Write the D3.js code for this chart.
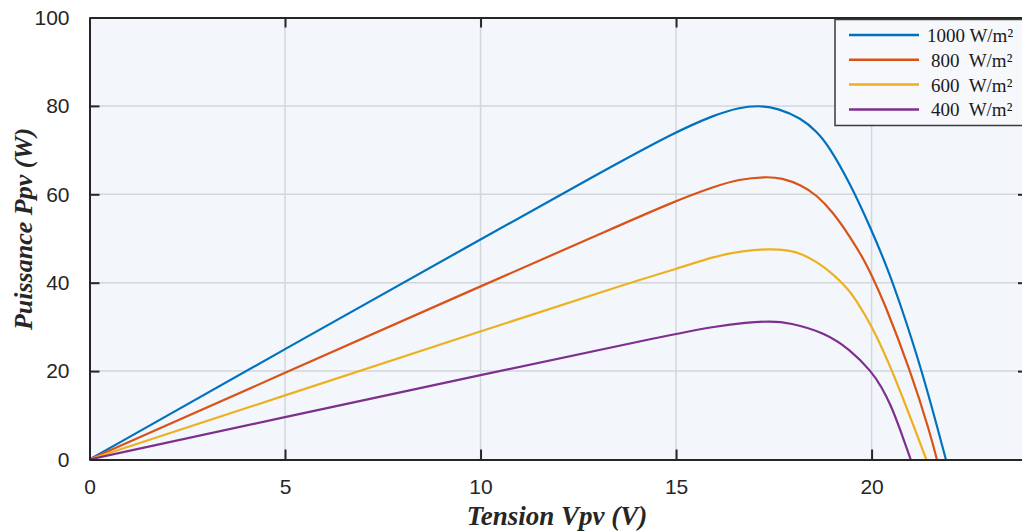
<!DOCTYPE html>
<html>
<head>
<meta charset="utf-8">
<script src="https://cdn.jsdelivr.net/npm/d3@7"></script>
<style>
  body { margin: 0; background: #fff; }
  svg { display: block; }
</style>
</head>
<body>
<div id="chart"></div>
<script>
// values
const seriesNames = ['1000 W/m²', '800  W/m²', '600  W/m²', '400  W/m²'];
const seriesColors = ['#0072BD', '#D95319', '#EDB120', '#7E2F8E'];

const v1000 = [0, 5, 10, 13, 15, 16, 16.6, 17.1, 17.6, 18.2, 18.6, 18.9, 19.45, 20.0, 20.4, 20.7, 21.3, 21.9];
const p1000 = [0, 25, 49.8, 64.6, 74.2, 78.0, 79.6, 80.1, 79.5, 77.2, 74.2, 71.0, 62.5, 51.9, 43.4, 36.1, 19.9, 0];

const v800 = [0, 5, 10, 13, 15, 16, 16.6, 17.3, 17.7, 18.2, 18.6, 19.0, 19.45, 19.8, 20.0, 20.3, 21.0, 21.5, 21.67];
const p800 = [0, 19.6, 39.2, 50.8, 58.6, 61.8, 63.4, 64.0, 63.7, 62.1, 59.8, 56.1, 50.4, 45.3, 41.7, 36.1, 19.9, 5.9, 0];

const v600 = [0, 5, 10, 14, 15, 16, 16.7, 17.4, 17.9, 18.2, 18.6, 19.0, 19.4, 19.6, 20.0, 20.55, 21.4];
const p600 = [0, 14.5, 29.0, 40.5, 43.1, 46.0, 47.2, 47.7, 47.3, 46.6, 44.7, 42.1, 38.6, 36.1, 30.4, 19.9, 0];

const v400 = [0, 5, 10, 15, 16, 16.8, 17.4, 17.9, 18.8, 19.45, 20.0, 20.25, 20.5, 20.75, 21.0];
const p400 = [0, 9.6, 19.1, 28.5, 30.1, 31.0, 31.3, 31.0, 28.7, 24.9, 19.9, 16.5, 12.2, 6.3, 0];

const xTicks = [0, 5, 10, 15, 20];
const yTicks = [0, 20, 40, 60, 80, 100];

const voltages = [v1000, v800, v600, v400];
const powers = [p1000, p800, p600, p400];

const W = 1022, H = 532;
const margin = { top: 17.5, left: 89.5 };
const width = 938.5;   // x = 24 V lies just outside the picture
const height = 442;

const svg = d3.select('#chart')
  .append('svg')
  .attr('width', W)
  .attr('height', H);

const g = svg.append('g')
  .attr('transform', `translate(${margin.left}, ${margin.top})`);

const x = d3.scaleLinear().domain([0, 24]).range([0, width]);
const y = d3.scaleLinear().domain([0, 100]).range([height, 0]);

// plot background
g.append('rect')
  .attr('width', width)
  .attr('height', height)
  .attr('fill', '#F3F7FC');

// grid
g.append('g')
  .selectAll('line')
  .data(xTicks.slice(1))
  .enter()
  .append('line')
  .attr('x1', d => x(d)).attr('x2', d => x(d))
  .attr('y1', 0).attr('y2', height)
  .attr('stroke', '#D3D6DA')
  .attr('stroke-width', 1.5);
g.append('g')
  .selectAll('line')
  .data(yTicks.slice(1, -1))
  .enter()
  .append('line')
  .attr('x1', 0).attr('x2', width)
  .attr('y1', d => y(d)).attr('y2', d => y(d))
  .attr('stroke', '#D3D6DA')
  .attr('stroke-width', 1.5);

// curves
const line = d3.line()
  .x(d => x(d[0]))
  .y(d => y(d[1]))
  .curve(d3.curveBasis);

voltages.forEach((vs, i) => {
  const pts = vs.map((v, k) => [v, powers[i][k]]);
  g.append('path')
    .datum(pts)
    .attr('fill', 'none')
    .attr('stroke', seriesColors[i])
    .attr('stroke-width', 2.2)
    .attr('d', line);
});

// axes (box with inward ticks)
const tickLen = 10;
const axisStyle = sel => {
  sel.select('.domain').attr('stroke', '#262626').attr('stroke-width', 2);
  sel.selectAll('.tick line').attr('stroke', '#262626').attr('stroke-width', 2);
  sel.selectAll('text')
    .attr('fill', '#262626')
    .style('font-family', '"Liberation Sans", Arial, sans-serif')
    .style('font-size', '21px');
};

g.append('g')
  .attr('transform', `translate(0, ${height})`)
  .call(d3.axisBottom(x).tickValues(xTicks).tickSizeInner(-tickLen).tickSizeOuter(0).tickPadding(20))
  .call(axisStyle);
g.append('g')
  .call(d3.axisTop(x).tickValues(xTicks).tickSizeInner(-tickLen).tickSizeOuter(0).tickFormat(''))
  .call(axisStyle);
g.append('g')
  .call(d3.axisLeft(y).tickValues(yTicks).tickSizeInner(-tickLen).tickSizeOuter(0).tickPadding(20))
  .call(axisStyle);
g.append('g')
  .attr('transform', `translate(${width}, 0)`)
  .call(d3.axisRight(y).tickValues(yTicks).tickSizeInner(-tickLen).tickSizeOuter(0).tickFormat(''))
  .call(axisStyle);

// axis titles
svg.append('text')
  .attr('x', 557)
  .attr('y', 525)
  .attr('text-anchor', 'middle')
  .style('font-family', '"Liberation Serif", "Times New Roman", serif')
  .style('font-weight', 'bold')
  .style('font-style', 'italic')
  .style('font-size', '27px')
  .attr('fill', '#262626')
  .text('Tension Vpv (V)');

svg.append('text')
  .attr('transform', 'translate(32, 229) rotate(-90)')
  .attr('text-anchor', 'middle')
  .style('font-family', '"Liberation Serif", "Times New Roman", serif')
  .style('font-weight', 'bold')
  .style('font-style', 'italic')
  .style('font-size', '26px')
  .attr('fill', '#262626')
  .text('Puissance Ppv (W)');

// legend
const legend = svg.append('g').attr('transform', 'translate(835, 19.5)');
legend.append('rect')
  .attr('width', 200)
  .attr('height', 106)
  .attr('fill', '#F6F8FC')
  .attr('stroke', '#3A3A3A')
  .attr('stroke-width', 1.5);

const entries = legend.selectAll('g.entry')
  .data(seriesNames)
  .enter()
  .append('g')
  .attr('class', 'entry')
  .attr('transform', (d, i) => `translate(0, ${15.5 + i * 24.8})`);
entries.append('line')
  .attr('x1', 14).attr('x2', 84)
  .attr('stroke', (d, i) => seriesColors[i])
  .attr('stroke-width', 2.5);
entries.append('text')
  .attr('x', (d, i) => i === 0 ? 92 : 96)
  .attr('y', 7)
  .style('white-space', 'pre')
  .style('font-family', '"Liberation Serif", "Times New Roman", serif')
  .style('font-size', '19px')
  .attr('fill', '#1a1a1a')
  .text(d => d);
</script>
</body>
</html>
